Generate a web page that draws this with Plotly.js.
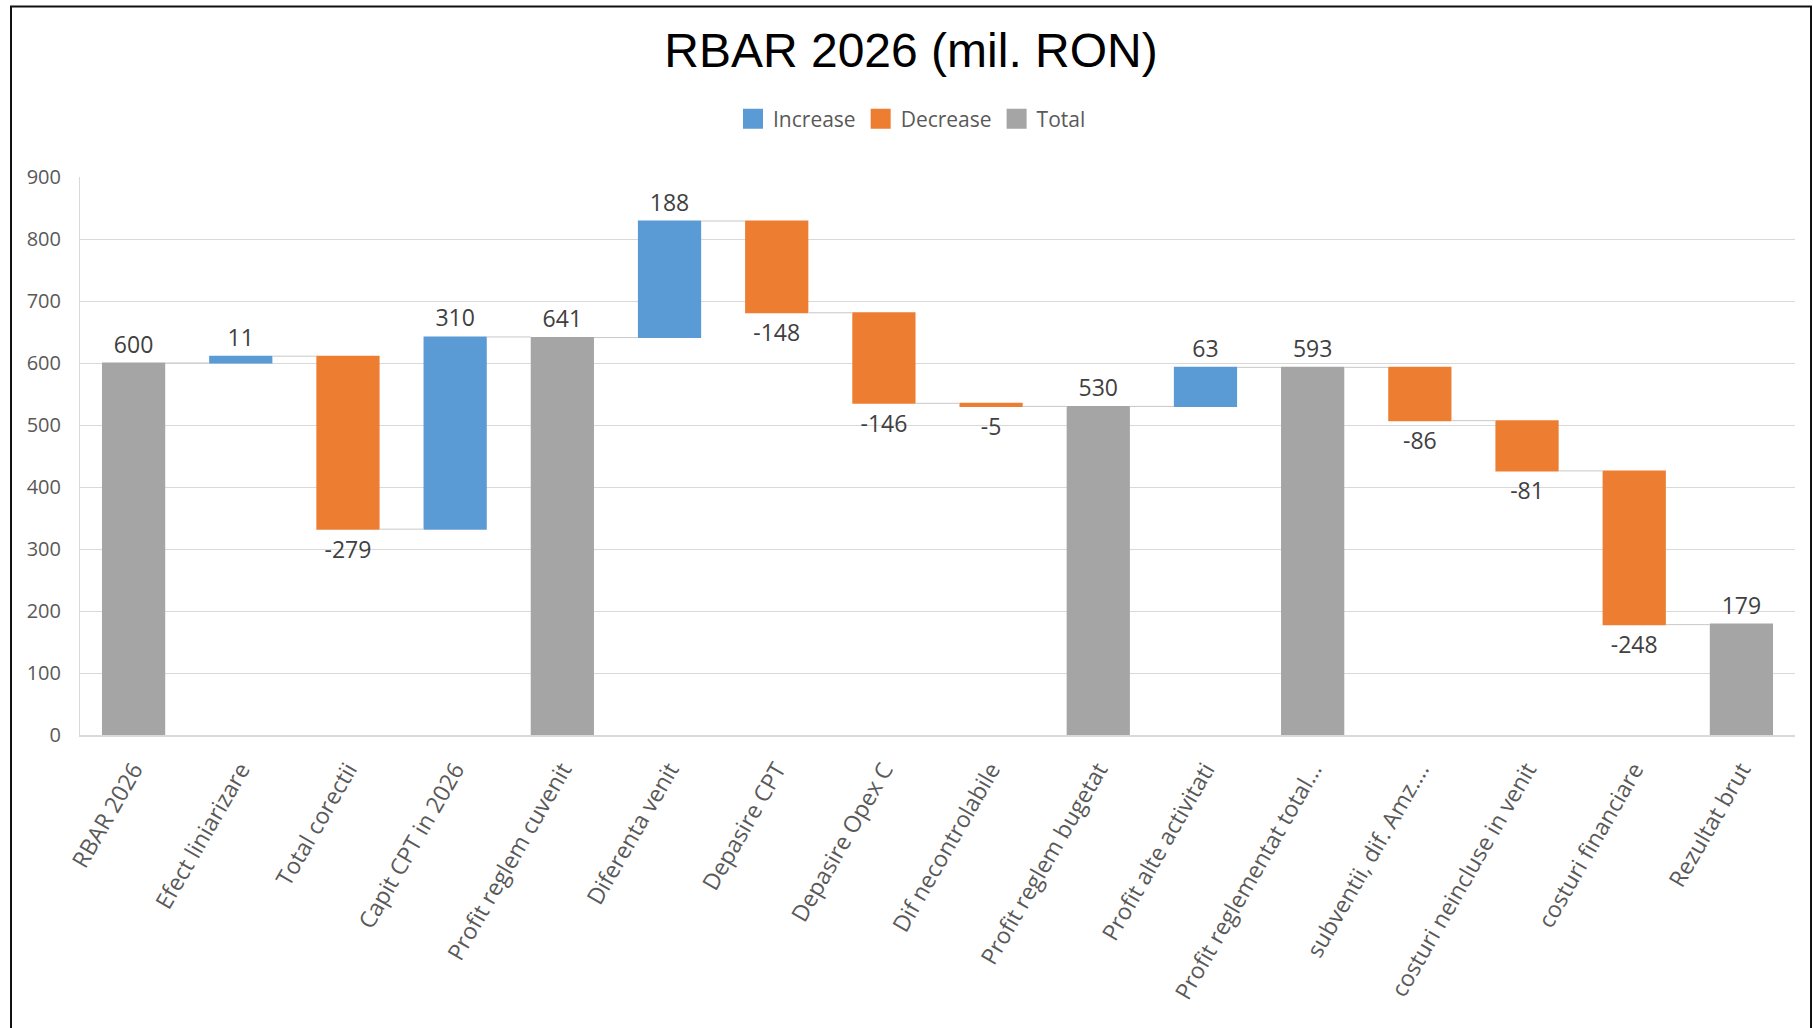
<!DOCTYPE html>
<html>
<head>
<meta charset="utf-8">
<script src="https://cdn.plot.ly/plotly-3.0.1.min.js"></script>
<style>
  html, body { margin: 0; padding: 0; background: #ffffff; }
  #chart { width: 1813px; height: 1028px; }
</style>
</head>
<body>
<div id="chart"></div>
<script>
const categories = [
  "RBAR 2026", "Efect liniarizare", "Total corectii", "Capit CPT in 2026",
  "Profit reglem cuvenit", "Diferenta venit", "Depasire CPT", "Depasire Opex C",
  "Dif necontrolabile", "Profit reglem bugetat", "Profit alte activitati",
  "Profit reglementat total...", "subventii, dif. Amz....", "costuri neincluse in venit",
  "costuri financiare", "Rezultat brut"
];
const measures = [
  "absolute", "relative", "relative", "relative",
  "absolute", "relative", "relative", "relative",
  "relative", "absolute", "relative",
  "absolute", "relative", "relative",
  "relative", "absolute"
];
const values = [600, 11, -279, 310, 641, 188, -148, -146, -5, 530, 63, 593, -86, -81, -248, 179];
const legendNames = ["Increase", "Decrease", "Total"];
const legendColors = ["#5B9BD5", "#ED7D31", "#A5A5A5"];
const yTicks = [0, 100, 200, 300, 400, 500, 600, 700, 800, 900];

const labelText = values.map(v => String(v));

const traces = [{
  type: "waterfall",
  x: categories,
  y: values,
  measure: measures,
  text: labelText,
  textinfo: "text",
  textposition: "outside",
  cliponaxis: false,
  textfont: { family: "Open Sans", size: 23, color: "#404040" },
  increasing: { marker: { color: legendColors[0] } },
  decreasing: { marker: { color: legendColors[1] } },
  totals: { marker: { color: legendColors[2] } },
  connector: { mode: "between", line: { color: "#c8c8c8", width: 1 } },
  showlegend: false,
  hoverinfo: "skip"
}];

legendNames.forEach((name, i) => {
  traces.push({
    type: "scatter",
    mode: "markers",
    x: [categories[0]],
    y: [null],
    name: name,
    marker: { symbol: "square", size: 16, color: legendColors[i], line: { color: legendColors[i], width: 4 } },
    showlegend: true,
    hoverinfo: "skip"
  });
});

const L = 80, R = 18, T = 177, B = 293;
const W = 1813, H = 1028;
const pw = W - L - R, ph = H - T - B;

const layout = {
  width: W,
  height: H,
  margin: { l: L, r: R, t: T, b: B, pad: 0 },
  paper_bgcolor: "#ffffff",
  plot_bgcolor: "#ffffff",
  font: { family: "Open Sans", size: 20, color: "#595959" },
  title: {
    text: "RBAR 2026 (mil. RON)",
    font: { family: "Liberation Sans", size: 48, color: "#000000" },
    xref: "container",
    x: 911 / W,
    xanchor: "center",
    yref: "container",
    y: 1 - 50 / H,
    yanchor: "middle"
  },
  showlegend: true,
  legend: {
    orientation: "h",
    xref: "container",
    yref: "container",
    x: 912 / W,
    xanchor: "center",
    y: 1 - 119 / H,
    yanchor: "middle",
    font: { family: "Open Sans", size: 21, color: "#595959" },
    bgcolor: "rgba(0,0,0,0)"
  },
  xaxis: {
    type: "category",
    range: [-0.5, categories.length - 0.5],
    autorange: false,
    tickangle: -60,
    showgrid: false,
    showline: true,
    linecolor: "#d9d9d9",
    linewidth: 2,
    zeroline: false,
    ticks: "",
    ticklabelstandoff: 10,
    tickfont: { family: "Open Sans", size: 23, color: "#595959" }
  },
  yaxis: {
    range: [0, 900],
    autorange: false,
    tickvals: yTicks,
    ticktext: yTicks.map(String),
    showgrid: true,
    gridcolor: "#d9d9d9",
    gridwidth: 1,
    showline: true,
    linecolor: "#d9d9d9",
    linewidth: 1,
    zeroline: false,
    ticks: "",
    ticklabelstandoff: 14,
    tickfont: { family: "Open Sans", size: 20, color: "#595959" }
  },
  waterfallgap: 0.41,
  shapes: [{
    type: "rect",
    xref: "paper",
    yref: "paper",
    x0: (11 - L) / pw,
    x1: (1811 - L) / pw,
    y0: -0.7,
    y1: (H - B - 6.5) / ph,
    line: { color: "#111111", width: 2 },
    fillcolor: "rgba(0,0,0,0)",
    layer: "above"
  }]
};

Plotly.newPlot("chart", traces, layout, { displayModeBar: false, staticPlot: true });
</script>
</body>
</html>
